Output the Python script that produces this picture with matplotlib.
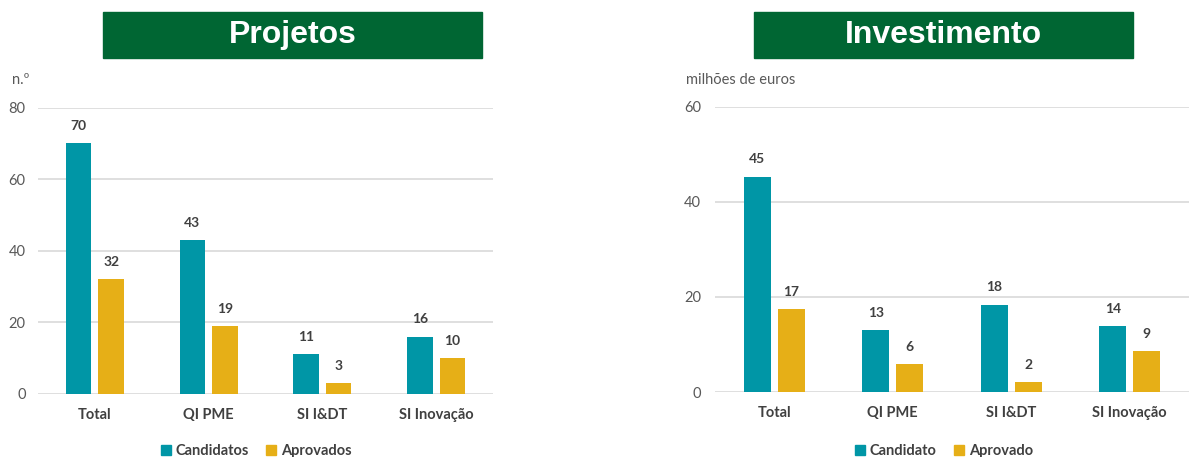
import matplotlib.pyplot as plt
from matplotlib.patches import Rectangle, Patch
import numpy as np

plt.rcParams['font.family'] = ['Lato', 'DejaVu Sans']

categories = ["Total", "QI PME", "SI I&DT", "SI Inovação"]

# Projetos (n.º)
proj_candidatos = [70, 43, 11, 16]
proj_aprovados = [32, 19, 3, 10]

# Investimento (milhões de euros)
inv_candidato = [45.3, 13.1, 18.4, 13.9]
inv_aprovado = [17.4, 5.9, 2.1, 8.6]

teal = "#0096A6"
gold = "#E6AF17"
green = "#006633"
W, H = 1189, 457

fig = plt.figure(figsize=(W / 100, H / 100), dpi=100)


def px_axes(x0, x1, y_top, y_bot):
    return fig.add_axes([x0 / W, (H - y_bot) / H, (x1 - x0) / W, (y_bot - y_top) / H])


def draw(ax, a, b, ymax, step, ypad):
    x = np.arange(len(categories))
    off, bw = 0.143, 0.225
    ba = ax.bar(x - off, a, bw, color=teal, zorder=3)
    bb = ax.bar(x + off, b, bw, color=gold, zorder=3)
    for bars in (ba, bb):
        for r in bars:
            ax.annotate(f"{r.get_height():.0f}", (r.get_x() + r.get_width() / 2, r.get_height()),
                        xytext=(0, 8), textcoords="offset points", ha="center", va="bottom",
                        fontsize=10, fontweight="bold", color="#404040")
    ax.set_xlim(-0.5, len(categories) - 0.5)
    ax.set_ylim(0, ymax)
    ax.set_yticks(np.arange(0, ymax + 1, step))
    ax.set_xticks(x)
    ax.set_xticklabels(categories, fontsize=10.5, fontweight="bold", color="#404040")
    ax.tick_params(axis="y", length=0, labelsize=10.5, labelcolor="#595959", pad=ypad)
    ax.tick_params(axis="x", length=0, pad=10)
    ax.grid(axis="y", color="#D9D9D9", linewidth=1.2, zorder=0)
    for s in ax.spines.values():
        s.set_visible(False)
    return ba, bb


ax1 = px_axes(38, 493, 107.7, 393.7)
draw(ax1, proj_candidatos, proj_aprovados, 80, 20, 9)
ax2 = px_axes(715, 1189, 106.7, 392)
draw(ax2, inv_candidato, inv_aprovado, 60, 20, 10)

# unit labels
fig.text(12 / W, 1 - 80 / H, "n.º", fontsize=10.5, color="#595959", va="center")
fig.text(686 / W, 1 - 80 / H, "milhões de euros", fontsize=10.5, color="#595959", va="center")

# title boxes
for x0, x1, title in [(103, 482, "Projetos"), (754, 1133, "Investimento")]:
    fig.patches.append(Rectangle((x0 / W, 1 - 57.7 / H), (x1 - x0) / W, 45.7 / H,
                                 transform=fig.transFigure, color=green, zorder=0))
    fig.text((x0 + x1) / 2 / W, 1 - 35 / H, title, ha="center", va="center",
             fontsize=23, fontweight="bold", color="white", family="Liberation Sans")

# legends
for cx, names in [(256, ["Candidatos", "Aprovados"]), (944, ["Candidato", "Aprovado"])]:
    handles = [Patch(color=teal, label=names[0]), Patch(color=gold, label=names[1])]
    fig.legend(handles=handles, loc="center", bbox_to_anchor=(cx / W, 6 / H), ncol=2,
               frameon=False, handlelength=0.7, handleheight=0.7, handletextpad=0.3,
               columnspacing=1.2, prop={"size": 10.5, "weight": "bold"}, labelcolor="#404040")

fig.savefig("out.png", dpi=100)
